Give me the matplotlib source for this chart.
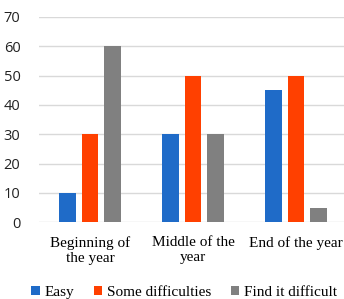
import numpy as np
import matplotlib
matplotlib.use('Agg')
import matplotlib.pyplot as plt

# data
categories = ['Beginning of\nthe year', 'Middle of the\nyear', 'End of the year']
series_names = ['Easy', 'Some difficulties', 'Find it difficult']
easy = [10, 30, 45]
some_difficulties = [30, 50, 50]
find_it_difficult = [60, 30, 5]
colors = ['#1f6bc8', '#ff4000', '#808080']

plt.rcParams['font.family'] = 'Liberation Serif'

fig = plt.figure(figsize=(3.44, 2.99), dpi=100)
ax = fig.add_axes([38.5 / 344, (299 - 222.3) / 299, 309 / 344, 205.3 / 299])

x = np.arange(len(categories))
width = 0.165
step = 0.22
for i, (vals, name) in enumerate(zip([easy, some_difficulties, find_it_difficult], series_names)):
    ax.bar(x + (i - 1) * step, vals, width, color=colors[i], label=name, zorder=3)

ax.set_xlim(-0.5, 2.5)
ax.set_ylim(0, 70)
ax.set_yticks(range(0, 71, 10))
ax.yaxis.grid(True, color='#d9d9d9', linewidth=1, zorder=0)
ax.set_axisbelow(True)
for s in ax.spines.values():
    s.set_visible(False)
ax.tick_params(length=0)
ax.tick_params(axis='y', pad=13, labelsize=10.5)
for lab in ax.get_yticklabels():
    lab.set_family('Open Sans')
    lab.set_color('#222222')

ax.set_xticks(x)
ax.set_xticklabels(categories, fontsize=11, linespacing=1.2)
ax.tick_params(axis='x', pad=10)

leg = fig.legend(loc='lower center', bbox_to_anchor=(0.535, -0.045), ncol=3, frameon=False,
                 fontsize=11, handlelength=0.55, handleheight=0.55, handletextpad=0.3,
                 columnspacing=1.3)
for t in leg.get_texts():
    t.set_family('Liberation Serif')

fig.savefig('out.png', dpi=100)
